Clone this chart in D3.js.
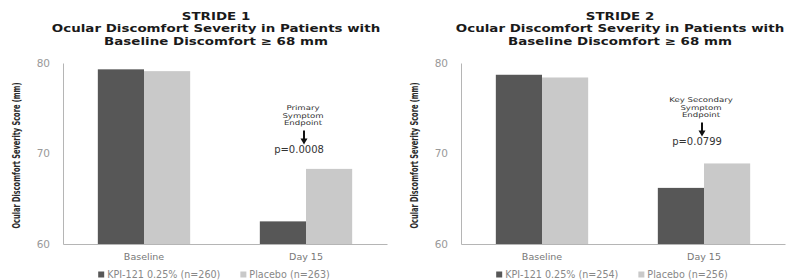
<!DOCTYPE html>
<html>
<head>
<meta charset="utf-8">
<script src="https://cdn.jsdelivr.net/npm/d3@7"></script>
<style>
  body { margin: 0; background: #fff; }
  svg text { font-family: "DejaVu Sans", sans-serif; }
</style>
</head>
<body>
<div id="chart"></div>
<script>
var categories = ["Baseline", "Day 15"]
var seriesNames = ["kpi", "placebo"]
var seriesColors = ["#575757", "#c9c9c9"]
var yTicks = [60, 70, 80]

var stride1Titles = ["STRIDE 1", "Ocular Discomfort Severity in Patients with", "Baseline Discomfort \u2265 68 mm"]
var stride1Kpi = [79.3, 62.5]
var stride1Placebo = [79.1, 68.3]
var stride1Legend = ["KPI-121 0.25% (n=260)", "Placebo (n=263)"]
var stride1Note = ["Primary", "Symptom", "Endpoint"]
var stride1P = "p=0.0008"

var stride2Titles = ["STRIDE 2", "Ocular Discomfort Severity in Patients with", "Baseline Discomfort \u2265 68 mm"]
var stride2Kpi = [78.7, 66.2]
var stride2Placebo = [78.4, 68.9]
var stride2Legend = ["KPI-121 0.25% (n=254)", "Placebo (n=256)"]
var stride2Note = ["Key Secondary", "Symptom", "Endpoint"]
var stride2P = "p=0.0799"

var yLabel = "Ocular Discomfort Severity Score (mm)"

var width = 786, height = 280

var svg = d3.select("#chart")
    .append("svg")
    .attr("width", width)
    .attr("height", height)

function drawPanel(offsetX, titleX, titles, kpi, placebo, legend, note, noteTop, pText) {
    var g = svg.append("g").attr("transform", "translate(" + offsetX + ",0)")
    var left = 63, right = 387, top = 63, bottom = 244

    var y = d3.scaleLinear().domain([60, 80]).range([bottom, top])
    var x0 = d3.scaleBand().domain(categories).range([left, right])
    var groupW = x0.bandwidth() * 0.57
    var x1 = d3.scaleBand().domain(seriesNames).range([0, groupW])

    // titles - the source lettering is wide, so stretch horizontally
    g.append("g")
        .attr("transform", "translate(" + titleX + ",0) scale(1.28,1)")
        .selectAll("text")
        .data(titles)
        .enter().append("text")
        .attr("x", 0)
        .attr("y", (d, i) => 20 + i * 12.5)
        .attr("text-anchor", "middle")
        .attr("font-size", 10.5)
        .attr("font-weight", "bold")
        .attr("fill", "#1a1a1a")
        .text((d) => d)

    // y title (narrow font in the original)
    g.append("text")
        .attr("transform", "translate(19.5," + ((top + bottom) / 2 + 2) + ") rotate(-90)")
        .attr("text-anchor", "middle")
        .attr("font-size", 10)
        .attr("font-weight", "bold")
        .attr("textLength", 146)
        .attr("lengthAdjust", "spacingAndGlyphs")
        .attr("fill", "#2a2a2a")
        .text(yLabel)

    // axes
    var yAxis = d3.axisLeft(y).tickValues(yTicks).tickSize(0).tickPadding(13)
    var ya = g.append("g").attr("transform", "translate(" + left + ",0)").call(yAxis)
    ya.select(".domain").attr("stroke", "#b5b5b5")
    ya.selectAll("text").attr("font-size", 10.5).attr("fill", "#999").style("font-family", "DejaVu Sans")

    var xAxis = d3.axisBottom(x0).tickSize(0).tickPadding(9)
    var xa = g.append("g").attr("transform", "translate(0," + bottom + ")").call(xAxis)
    xa.select(".domain").attr("stroke", "#b5b5b5")
    xa.selectAll("text").attr("font-size", 9.5).attr("fill", "#777").style("font-family", "DejaVu Sans")

    // bars
    var rows = categories.map((c, i) => ({cat: c, vals: [kpi[i], placebo[i]]}))
    var groups = g.append("g").selectAll("g")
        .data(rows)
        .enter().append("g")
        .attr("transform", (d) => "translate(" + (x0(d.cat) + (x0.bandwidth() - groupW) / 2) + ",0)")
    groups.selectAll("rect")
        .data((d) => d.vals.map((v, i) => ({s: seriesNames[i], v: v, c: seriesColors[i]})))
        .enter().append("rect")
        .attr("x", (d) => x1(d.s))
        .attr("width", x1.bandwidth())
        .attr("y", (d) => y(d.v))
        .attr("height", (d) => bottom - y(d.v))
        .attr("fill", (d) => d.c)

    // annotation over Day 15 (noteTop = centre of first line)
    var cx = x0("Day 15") + x0.bandwidth() / 2
    g.append("g")
        .attr("transform", "translate(" + (cx - 3) + ",0) scale(1.3,1)")
        .selectAll("text")
        .data(note)
        .enter().append("text")
        .attr("x", 0)
        .attr("y", (d, i) => noteTop + 2.5 + i * 7.6)
        .attr("text-anchor", "middle")
        .attr("font-size", 6.6)
        .attr("fill", "#333")
        .text((d) => d)
    var ay0 = noteTop + 23, ay1 = noteTop + 37
    g.append("line")
        .attr("x1", cx - 2).attr("x2", cx - 2)
        .attr("y1", ay0).attr("y2", ay1 - 5)
        .attr("stroke", "#111").attr("stroke-width", 2)
    g.append("path")
        .attr("d", "M" + (cx - 5.5) + "," + (ay1 - 6) + "L" + (cx + 1.5) + "," + (ay1 - 6) + "L" + (cx - 2) + "," + ay1 + "Z")
        .attr("fill", "#111")
    g.append("text")
        .attr("x", cx - 7)
        .attr("y", noteTop + 45)
        .attr("text-anchor", "middle")
        .attr("font-size", 10)
        .attr("fill", "#333")
        .text(pText)

    // legend, centred under the plot
    var lg = g.append("g").attr("transform", "translate(0,275)")
    var items = lg.selectAll("g")
        .data(legend)
        .enter().append("g")
    items.append("rect")
        .attr("x", 0).attr("y", -3.5)
        .attr("width", 6).attr("height", 6)
        .attr("fill", (d, i) => seriesColors[i])
    items.append("text")
        .attr("x", 9).attr("y", 3)
        .attr("font-size", 9.6)
        .attr("fill", "#888")
        .text((d) => d)
    var widths = []
    items.each(function() { widths.push(this.getBBox().width) })
    var gap = 20
    var total = d3.sum(widths) + gap * (widths.length - 1)
    var pos = 214 - total / 2
    items.attr("transform", (d, i) => {
        var p = pos
        pos += widths[i] + gap
        return "translate(" + p + ",0)"
    })
}

drawPanel(0, 216, stride1Titles, stride1Kpi, stride1Placebo, stride1Legend, stride1Note, 107.5, stride1P)
drawPanel(398, 222, stride2Titles, stride2Kpi, stride2Placebo, stride2Legend, stride2Note, 99.5, stride2P)
</script>
</body>
</html>
